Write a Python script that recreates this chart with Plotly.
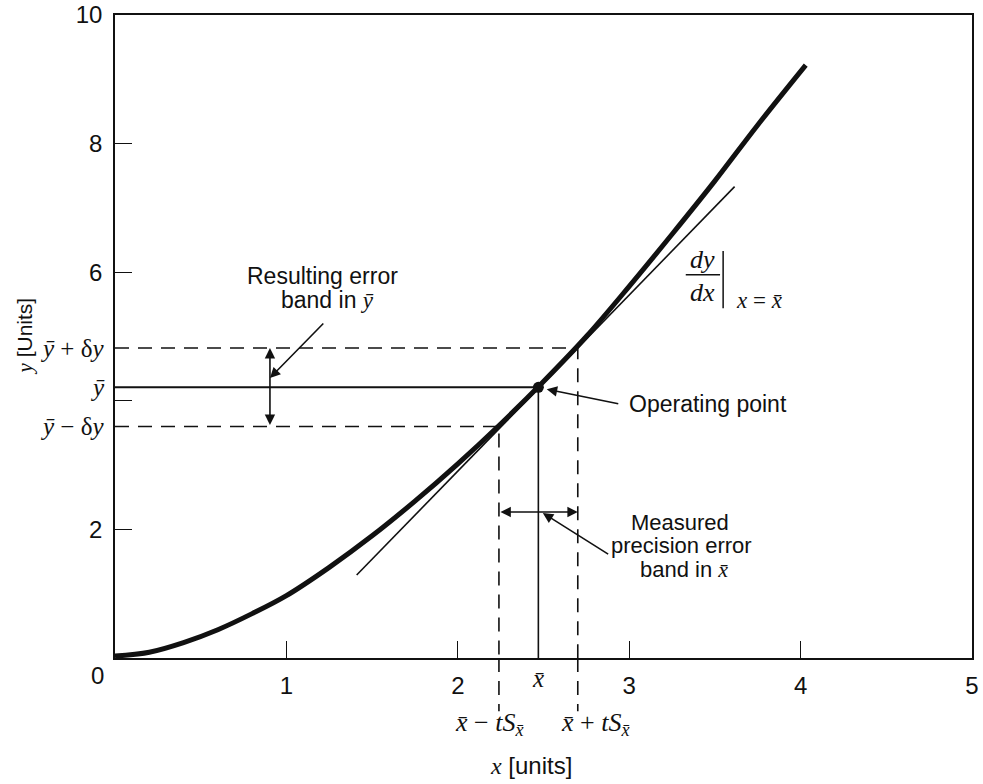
import plotly.graph_objects as go

# ---- data ----
curve_x = [0, 0.2, 0.4, 0.6, 0.8, 1.0, 1.25, 1.5, 1.75, 2.0, 2.25, 2.5, 2.75, 3.0, 3.25, 3.5, 3.75, 4.03]
curve_y = [0.03, 0.09, 0.24, 0.44, 0.69, 0.97, 1.41, 1.9, 2.44, 3.02, 3.64, 4.3, 5.0, 5.78, 6.59, 7.42, 8.29, 9.22]
tangent_x = [1.41, 3.615]
tangent_y = [1.29, 7.33]
x_bar, y_bar = 2.47, 4.21
x_lo, x_hi = 2.24, 2.70
y_lo, y_hi = 3.6, 4.82

x_tickvals = [0, 1, 2, 3, 4, 5]
x_ticktext = ["", "1", "2", "3", "4", "5"]
y_tickvals = [0, 2, 4, 6, 8, 10]
y_ticktext = ["", "2", "", "6", "8", "10"]

SANS = "Liberation Sans"
SERIF = "Liberation Serif"
INK = "#111111"

fig = go.Figure()

fig.add_trace(go.Scatter(x=curve_x, y=curve_y, mode="lines", line=dict(color=INK, width=5, shape="spline", smoothing=1.0),
                         hoverinfo="skip", showlegend=False))
fig.add_trace(go.Scatter(x=tangent_x, y=tangent_y, mode="lines", line=dict(color=INK, width=1.6),
                         hoverinfo="skip", showlegend=False))
fig.add_trace(go.Scatter(x=[0, x_bar], y=[y_bar, y_bar], mode="lines", line=dict(color=INK, width=2),
                         hoverinfo="skip", showlegend=False))
fig.add_trace(go.Scatter(x=[x_bar, x_bar], y=[y_bar, 0], mode="lines", line=dict(color=INK, width=1.6),
                         hoverinfo="skip", showlegend=False))
DASH = "14px,9px"
fig.add_trace(go.Scatter(x=[0, x_hi, x_hi], y=[y_hi, y_hi, 0], mode="lines",
                         line=dict(color=INK, width=1.6, dash=DASH), hoverinfo="skip", showlegend=False))
fig.add_trace(go.Scatter(x=[0, x_lo, x_lo], y=[y_lo, y_lo, 0], mode="lines",
                         line=dict(color=INK, width=1.6, dash=DASH), hoverinfo="skip", showlegend=False))
fig.add_trace(go.Scatter(x=[x_bar], y=[y_bar], mode="markers", marker=dict(color=INK, size=11),
                         hoverinfo="skip", showlegend=False, cliponaxis=False))

shapes = []
for xv in (x_lo, x_hi):
    shapes.append(dict(type="line", xref="x", yref="paper", x0=xv, x1=xv, y0=0, y1=-0.083,
                       line=dict(color=INK, width=1.6, dash=DASH)))
# dy/dx fraction bar and evaluation bar
shapes.append(dict(type="line", xref="x", yref="y", x0=3.33, x1=3.53, y0=5.96, y1=5.96,
                   line=dict(color=INK, width=1.5)))
shapes.append(dict(type="line", xref="x", yref="y", x0=3.548, x1=3.548, y0=6.33, y1=5.44,
                   line=dict(color=INK, width=1.5)))

ann = []
def arrow(hx, hy, tx, ty, both=False):
    d = dict(x=hx, y=hy, ax=tx, ay=ty, xref="x", yref="y", axref="x", ayref="y", text="",
             showarrow=True, arrowhead=2, arrowsize=1.3, arrowwidth=1.6, arrowcolor=INK, standoff=0)
    if both:
        d.update(arrowside="end+start", startarrowhead=2, startarrowsize=1.3, startstandoff=0)
    return d

ann.append(arrow(0.904, y_hi, 0.904, y_lo, both=True))
ann.append(arrow(0.904, 4.355, 1.224, 5.225))
ann.append(arrow(2.519, 4.18, 2.945, 3.95))
ann.append(arrow(x_hi, 2.27, x_lo, 2.27, both=True))
ann.append(arrow(2.496, 2.255, 2.886, 1.60))

def text(x, y, t, size=22, family=SANS, xanchor="center", yanchor="middle", xref="x", yref="y",
         xshift=0, yshift=0, angle=0):
    return dict(x=x, y=y, text=t, xref=xref, yref=yref, showarrow=False, xanchor=xanchor, yanchor=yanchor,
                font=dict(family=family, size=size, color=INK), xshift=xshift, yshift=yshift, textangle=angle)

YB = "<span style='font-family:Liberation Serif'><i>ȳ</i></span>"
XB = "<span style='font-family:Liberation Serif'><i>x̄</i></span>"
ann.append(text(1.213, 5.94, "Resulting error", size=23))
ann.append(text(1.24, 5.56, "band in " + YB, size=23))
ann.append(text(2.985, 3.95, "Operating point", size=23, xanchor="left"))
ann.append(text(3.294, 2.115, "Measured"))
ann.append(text(3.306, 1.757, "precision error"))
ann.append(text(3.318, 1.384, "band in " + XB))
# dy/dx |x = x̄
ann.append(text(3.43, 6.2, "<i>dy</i>", size=26, family=SERIF))
ann.append(text(3.43, 5.68, "<i>dx</i>", size=26, family=SERIF))
ann.append(text(3.76, 5.56, "<i>x</i> = <i>x̄</i>", size=23, family=SERIF))

# y-side labels
ann.append(text(0, y_hi, "<i>ȳ</i> + δ<i>y</i>", size=25, family=SERIF, xanchor="right", xshift=-8))
ann.append(text(0, y_bar, "<i>ȳ</i>", size=25, family=SERIF, xanchor="right", xshift=-8))
ann.append(text(0, y_lo, "<i>ȳ</i> − δ<i>y</i>", size=25, family=SERIF, xanchor="right", xshift=-8))
# x-side labels
ann.append(text(x_bar, 0, "<i>x̄</i>", size=25, family=SERIF, yshift=-20))
ann.append(text(x_lo - 0.053, 0, "<i>x̄</i> − <i>tS</i><sub><i>x̄</i></sub>", size=26, family=SERIF, yshift=-66))
ann.append(text(x_hi + 0.105, 0, "<i>x̄</i> + <i>tS</i><sub><i>x̄</i></sub>", size=26, family=SERIF, yshift=-66))
ann.append(text(0, 0, "0", size=24, family=SANS, xshift=-18, yshift=-17))
# axis titles
ann.append(text(2.426, 0, "<span style='font-family:Liberation Serif'><i>x</i></span> [units]", size=24,
                yref="paper", yshift=-107))
ann.append(text(0, 5.0, "<span style='font-family:Liberation Serif'><i>y</i></span> [Units]", size=21,
                xref="paper", xshift=-91, angle=-90))

axis_common = dict(showline=True, mirror=True, linecolor=INK, linewidth=1.6, ticks="inside", ticklen=17,
                   tickwidth=1.3, tickcolor=INK, showgrid=False, zeroline=False, automargin=False,
                   tickfont=dict(family=SANS, size=24, color=INK))

fig.update_layout(
    width=983, height=784,
    margin=dict(l=115, r=11, t=15, b=126, autoexpand=False),
    plot_bgcolor="white", paper_bgcolor="white",
    xaxis=dict(range=[0, 5], tickvals=x_tickvals, ticktext=x_ticktext, ticklabelstandoff=5, **axis_common),
    yaxis=dict(range=[0, 10], tickvals=y_tickvals, ticktext=y_ticktext, ticklabelstandoff=6, **axis_common),
    shapes=shapes, annotations=ann, showlegend=False,
)

fig.write_html("out.html", config={"displayModeBar": False},
               post_script="document.body.style.margin='0';document.body.style.overflow='hidden';")
